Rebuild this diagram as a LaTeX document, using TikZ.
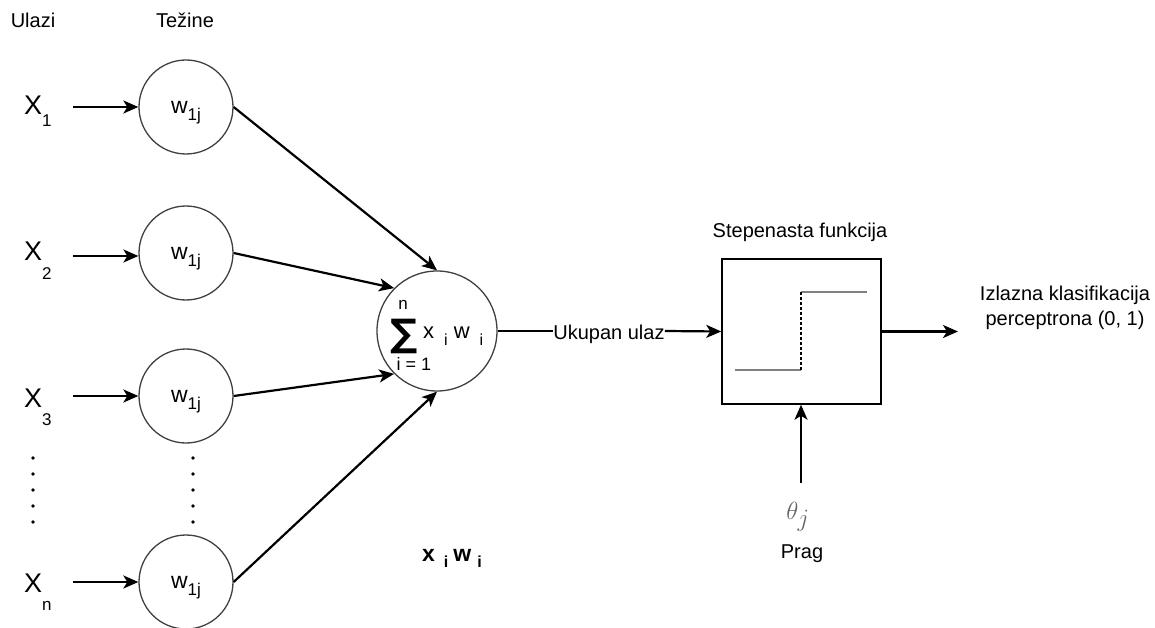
\documentclass[tikz,border=0pt]{standalone}
\usepackage{fontspec}
\setmainfont{Liberation Sans}
\newfontfamily\dejavu{DejaVu Sans}
\usetikzlibrary{arrows.meta}
\newcommand{\lowsub}[3]{\raisebox{-#1pt}{\fontsize{#2}{#2}\selectfont #3}}
\begin{document}
\begin{tikzpicture}[x=1pt,y=-1pt,
  lbl/.style={font=\fontsize{20}{25}\selectfont, inner sep=0pt},
  xlbl/.style={font=\fontsize{27}{27}\selectfont, inner sep=0pt, anchor=base west},
  wcirc/.style={circle, draw=black!75, line width=1.3pt, minimum size=94pt, inner sep=0pt,
     font=\fontsize{23}{23}\selectfont},
  arr/.style={line width=2.2pt, -{Stealth[length=15pt,width=13pt,inset=4pt]}},
  stepline/.style={draw=black!50, line width=2pt},
  dotmark/.style={fill=black, circle, inner sep=0pt, minimum size=3.8pt}
]
\useasboundingbox (0,0) rectangle (1155,628);
\fill[white] (0,0) rectangle (1155,628);

% headers
\node[lbl, anchor=base] (ulazi) at (33,28) {Ulazi};
\node[lbl, anchor=base] (tezine) at (185,28) {Težine};

% inputs
\node[xlbl] (x1) at (24,115) {X\lowsub{12}{17}{1}};
\node[xlbl] (x2) at (24,260) {X\lowsub{19}{17}{2}};
\node[xlbl] (x3) at (24,407) {X\lowsub{18}{17}{3}};
\node[xlbl] (xn) at (24,592) {X\lowsub{18}{17}{n}};

% weight circles
\node[wcirc] (w1) at (186,107) {w\smash{\lowsub{7}{17}{1j}}};
\node[wcirc] (w2) at (186,253) {w\smash{\lowsub{7}{17}{1j}}};
\node[wcirc] (w3) at (186,396) {w\smash{\lowsub{7}{17}{1j}}};
\node[wcirc] (wn) at (186,582) {w\smash{\lowsub{7}{17}{1j}}};

\coordinate (a1) at (73,107);
\coordinate (a2) at (73,256);
\coordinate (a3) at (73,396);
\coordinate (an) at (73,582);
\draw[arr] (a1) -- (a1 -| w1.west);
\draw[arr] (a2) -- (a2 -| w2.west);
\draw[arr] (a3) -- (a3 -| w3.west);
\draw[arr] (an) -- (an -| wn.west);

% dots
\foreach \yy in {458,474,490,506,522} {
  \node[dotmark] at (33,\yy) {};
  \node[dotmark] at (193,\yy) {};
}

% sum circle
\node[circle, draw=black!75, line width=1.3pt, minimum size=120pt, inner sep=0pt] (sum) at (437,331) {};
\node[inner sep=0pt, anchor=base, font=\dejavu\bfseries\fontsize{38}{38}\selectfont] (sigma) at (404,346) {∑};
\node[inner sep=0pt, anchor=base, font=\fontsize{17}{17}\selectfont] (supn) at (403,309) {n};
\node[inner sep=0pt, anchor=base, font=\fontsize{18}{18}\selectfont] (subi) at (414,370) {i = 1};
\node[inner sep=0pt, anchor=base west, font=\fontsize{22}{22}\selectfont] (xw) at (423,338)
  {x\hspace{10pt}\lowsub{7}{16}{i}\hspace{6pt}w\hspace{10pt}\lowsub{7}{16}{i}};

\draw[arr] (w1.east) -- (sum.north);
\draw[arr] (w2.east) -- (sum.north west);
\draw[arr] (w3.east) -- (sum.south west);
\draw[arr] (wn.east) -- (sum.south);

% total input
\node[lbl, anchor=base] (uk) at (609,339) {Ukupan ulaz};

% step box
\node[draw, line width=1.5pt, minimum width=159pt, minimum height=145pt, inner sep=0pt] (box) at (801.5,331.5) {};
\node[lbl, anchor=base] (stepen) at (800,237) {Stepenasta funkcija};
\coordinate (s1) at (735,370);
\coordinate (s2) at (801,370);
\coordinate (s3) at (801,292);
\coordinate (s4) at (867,292);
\draw[stepline] (s1) -- (s2);
\draw[stepline] (s3) -- (s4);
\draw[line width=1.2pt, dash pattern=on 3pt off 2pt] (s2) -- (s3);

\draw[line width=2.2pt] (sum.east) -- (sum.east -| uk.west);
\draw[arr] (uk.east |- sum.east) -- (box.west);

% output
\node[lbl, anchor=base, align=center] (out) at (1065,325) {Izlazna klasifikacija\\perceptrona (0, 1)};
\coordinate (outend) at (958,331.5);
\draw[arr] (box.east) -- (outend);

% threshold
\node[inner sep=0pt, anchor=base, text=black!60, font=\fontsize{35}{35}\selectfont] (theta) at (798,519) {$\theta_j$};
\coordinate (thstart) at (801,483);
\draw[arr] (thstart) -- (thstart |- box.south);
\node[lbl, anchor=base] (prag) at (802,558) {Prag};

% bottom label
\node[inner sep=0pt, anchor=base west, font=\bfseries\fontsize{23}{23}\selectfont] (xwb) at (422,561)
  {x\hspace{9pt}\lowsub{6}{16}{i}\hspace{5pt}w\hspace{6pt}\lowsub{6}{16}{i}};
\end{tikzpicture}
\end{document}
